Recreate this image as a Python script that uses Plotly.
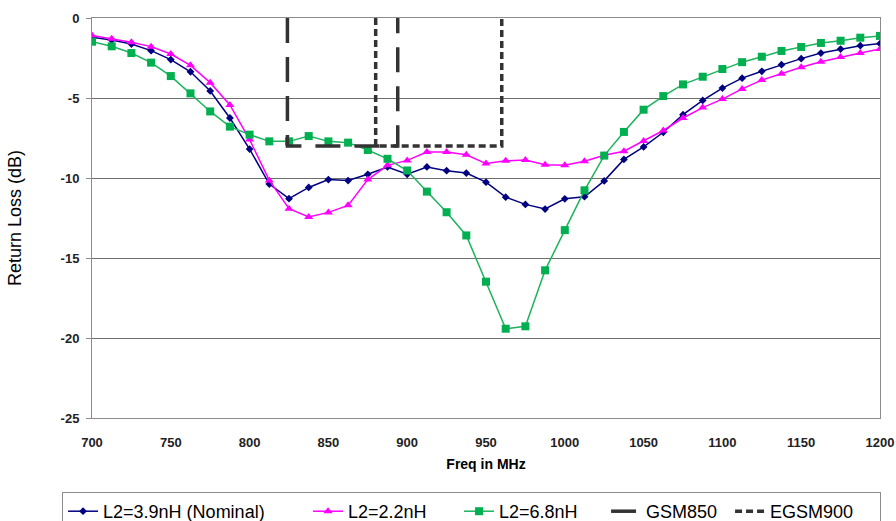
import plotly.graph_objects as go

# Frequency sweep (MHz)
freq_mhz = [700, 712.5, 725, 737.5, 750, 762.5, 775, 787.5, 800, 812.5,
            825, 837.5, 850, 862.5, 875, 887.5, 900, 912.5, 925, 937.5,
            950, 962.5, 975, 987.5, 1000, 1012.5, 1025, 1037.5, 1050, 1062.5,
            1075, 1087.5, 1100, 1112.5, 1125, 1137.5, 1150, 1162.5, 1175, 1187.5,
            1200]

# Return loss (dB) for each L2 value
rl_3n9 = [-1.21, -1.38, -1.63, -2.04, -2.60, -3.36, -4.56, -6.25, -8.19, -10.38,
          -11.29, -10.59, -10.10, -10.16, -9.77, -9.31, -9.77, -9.31, -9.54, -9.69,
          -10.26, -11.20, -11.65, -11.94, -11.30, -11.17, -10.18, -8.84, -8.06, -7.14,
          -6.04, -5.15, -4.38, -3.76, -3.33, -2.92, -2.54, -2.19, -1.94, -1.73,
          -1.60]
rl_2n2 = [-1.09, -1.29, -1.52, -1.79, -2.25, -2.96, -4.04, -5.43, -7.60, -10.15,
          -11.92, -12.44, -12.15, -11.71, -10.10, -9.21, -8.90, -8.38, -8.38, -8.55,
          -9.10, -8.92, -8.88, -9.17, -9.20, -8.95, -8.58, -8.33, -7.68, -7.03,
          -6.25, -5.60, -5.07, -4.43, -3.88, -3.48, -3.08, -2.73, -2.44, -2.19,
          -1.94]
rl_6n8 = [-1.48, -1.77, -2.19, -2.79, -3.63, -4.71, -5.84, -6.79, -7.29, -7.71,
          -7.71, -7.38, -7.71, -7.79, -8.25, -8.80, -9.53, -10.85, -12.14, -13.59,
          -16.48, -19.42, -19.27, -15.77, -13.26, -10.77, -8.60, -7.12, -5.73, -4.88,
          -4.15, -3.67, -3.19, -2.76, -2.42, -2.06, -1.81, -1.56, -1.42, -1.23,
          -1.12]

# Band masks: edges (MHz) and the -8 dB limit
gsm850_f = [824, 824, 894, 894]
gsm850_rl = [0, -8, -8, 0]
egsm900_f = [880, 880, 960, 960]
egsm900_rl = [0, -8, -8, 0]

# Axis ticks
x_ticks = [700, 750, 800, 850, 900, 950, 1000, 1050, 1100, 1150, 1200]
y_ticks = [0, -5, -10, -15, -20, -25]
y_tick_text = ["0", "-5", "-10", "-15", "-20", "-25"]

fig = go.Figure()

fig.add_trace(go.Scatter(
    x=freq_mhz, y=rl_3n9, mode="lines+markers", name="L2=3.9nH (Nominal)",
    line=dict(color="#000080", width=1.5),
    marker=dict(symbol="diamond", size=6, color="#000080"),
    legendwidth=200,
))
fig.add_trace(go.Scatter(
    x=freq_mhz, y=rl_2n2, mode="lines+markers", name="L2=2.2nH",
    line=dict(color="#FF00FF", width=1.5),
    marker=dict(symbol="triangle-up", size=8, color="#FF00FF"),
    legendwidth=106,
))
fig.add_trace(go.Scatter(
    x=freq_mhz, y=rl_6n8, mode="lines+markers", name="L2=6.8nH",
    line=dict(color="#1DB35C", width=1.5),
    marker=dict(symbol="square", size=8, color="#00AF50"),
    legendwidth=102,
))
fig.add_trace(go.Scatter(
    x=gsm850_f, y=gsm850_rl, mode="lines", name="GSM850",
    line=dict(color="#333333", width=3.5, dash="25px,14px"),
    legendwidth=79,
))
fig.add_trace(go.Scatter(
    x=egsm900_f, y=egsm900_rl, mode="lines", name="EGSM900",
    line=dict(color="#333333", width=3.5, dash="7px,4px"),
    legendwidth=105,
))

axis_font = dict(family="Arial, Liberation Sans, sans-serif", size=13, color="#222222")

fig.update_layout(
    width=896, height=521,
    margin=dict(l=92, r=16, t=18, b=103, autoexpand=False),
    paper_bgcolor="white", plot_bgcolor="white",
    font=dict(family="Arial, Liberation Sans, sans-serif", color="black"),
    showlegend=True,
    legend=dict(
        orientation="h", x=-0.038, xanchor="left", y=-0.185, yanchor="top",
        bordercolor="#8c8c8c", borderwidth=1, bgcolor="white",
        font=dict(family="Arial, Liberation Sans, sans-serif", size=18, color="black"),
        itemclick=False, itemdoubleclick=False,
    ),
    xaxis=dict(
        range=[700, 1200], tickvals=x_ticks, ticks="outside", ticklen=12,
        tickcolor="rgba(0,0,0,0)", showgrid=False, zeroline=False,
        showline=True, linecolor="#8c8c8c", linewidth=1, mirror=True,
        tickfont=dict(axis_font, **{"weight": "bold"}),
        title=dict(text="<b>Freq in MHz</b>", standoff=10,
                   font=dict(family="Arial, Liberation Sans, sans-serif", size=14, color="black")),
        automargin=False,
    ),
    xaxis2=dict(
        range=[700, 1200], tickvals=x_ticks, overlaying="x", side="top",
        anchor="y", ticks="inside", ticklen=5, tickcolor="#666666",
        showticklabels=False, showgrid=False, zeroline=False,
        showline=True, linecolor="#555555", linewidth=1,
    ),
    yaxis=dict(
        range=[-25, 0], tickvals=y_ticks, ticktext=y_tick_text,
        ticks="outside", ticklen=5, tickcolor="#8c8c8c", ticklabelstandoff=4,
        showgrid=True, gridcolor="#6e6e6e", gridwidth=1, zeroline=False,
        showline=True, linecolor="#8c8c8c", linewidth=1, mirror=True,
        tickfont=dict(axis_font, **{"weight": "bold"}),
        title=dict(text="Return Loss (dB)", standoff=34,
                   font=dict(family="Arial, Liberation Sans, sans-serif", size=18, color="black")),
        automargin=False,
    ),
)

fig.write_html("out.html")
